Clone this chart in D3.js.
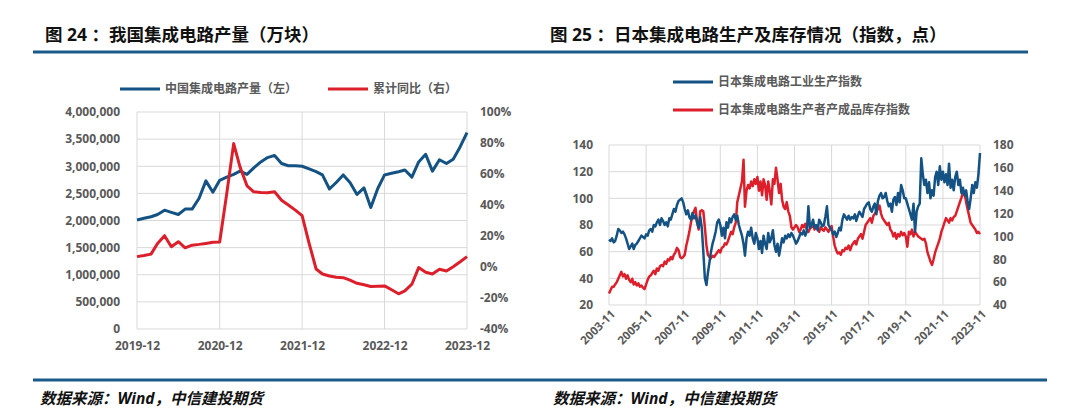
<!DOCTYPE html>
<html><head><meta charset="utf-8">
<script src="https://cdn.jsdelivr.net/npm/d3@7/dist/d3.min.js"></script>
<style>
body{margin:0;background:#fff;}
svg text{font-family:"Open Sans","Noto Sans CJK SC",sans-serif;}
</style></head>
<body><svg id="c" width="1080" height="418"></svg>
<script>
// ---------- Left chart data (2019-12 .. 2023-12, monthly) ----------
const leftStart = "2019-12", leftEnd = "2023-12";
const leftTickLabels = ["2019-12","2020-12","2021-12","2022-12","2023-12"];
const chinaOutput = [2010000,2040000,2070000,2110000,2190000,2150000,2110000,2210000,2210000,2410000,2730000,2520000,
  2740000,2800000,2850000,2910000,2850000,2970000,3080000,3160000,3200000,3050000,3010000,3010000,
  3000000,2950000,2900000,2840000,2580000,2700000,2840000,2700000,2480000,2600000,2240000,2590000,
  2840000,2870000,2900000,2930000,2800000,3080000,3220000,2910000,3120000,3050000,3130000,3360000,3620000];
const chinaYoY = [6.7,7.4,8.3,15.2,20.2,13.1,16.3,12.4,14.1,14.6,15.2,15.9,
  16.1,47,79.6,64.6,52.4,48.5,48.1,47.9,48.5,43.1,40.0,36.7,
  33.1,15.3,-1.3,-4.5,-5.8,-6.6,-6.9,-8.5,-10.5,-11.5,-12.6,-12.4,
  -12.2,-14.7,-17.3,-15.4,-11.1,-0.4,-3.4,-4.5,-1.5,-2.6,0.2,3.4,6.7];
const leftYTicks = [0,500000,1000000,1500000,2000000,2500000,3000000,3500000,4000000];
const rightYTicksPct = [-40,-20,0,20,40,60,80,100];
const leftLegend = ["中国集成电路产量（左）","累计同比（右）"];

// ---------- Right chart data (2003-11 .. 2023-11, monthly) ----------
const rightStart = "2003-11", rightEnd = "2023-11";
const jpProduction = [
 69,68,70,67,68,72,77,76,74,75,73,70,
 66,62,64,66,62,65,66,68,70,72,71,70,
 73,72,76,77,75,80,79,82,84,80,85,83,
 80,82,79,85,84,88,92,90,95,98,99,100,
 97,92,88,91,86,84,89,85,87,82,78,86,
 78,60,40,35,44,52,60,66,70,75,82,84,
 80,72,78,70,82,78,85,82,86,88,84,87,
 80,76,72,66,57,70,75,72,78,70,66,74,
 70,62,68,59,72,66,62,74,67,70,76,65,
 60,66,57,64,70,67,72,70,73,71,74,72,
 69,66,68,71,74,73,76,72,75,94,78,80,
 84,78,80,76,84,82,79,80,86,94,80,78,
 76,73,75,71,74,78,76,84,88,86,84,87,
 84,86,85,88,83,87,90,88,86,92,94,96,
 97,92,90,94,96,88,98,102,104,100,101,104,
 98,94,96,90,99,101,95,104,97,110,106,100,
 100,96,92,88,84,96,75,90,94,96,130,118,
 110,114,104,112,100,106,102,116,120,110,124,114,
 120,112,118,110,126,108,114,106,116,120,110,114,
 104,108,102,106,98,92,100,110,104,112,108,118,
 134];
const jpInventory = [
 50,53,56,56,58,60,63,66,69,65,67,63,
 66,62,60,63,58,60,57,59,56,57,55,54,
 58,62,65,66,68,70,67,72,70,74,75,74,
 78,76,80,79,82,80,84,86,90,88,82,81,
 82,84,92,98,104,112,118,122,125,112,106,122,
 123,122,108,92,84,82,81,83,82,84,86,88,
 86,90,91,94,93,96,100,104,102,108,112,130,
 136,142,148,167,126,140,145,142,148,144,150,146,
 152,140,148,136,150,145,132,148,140,128,150,146,
 160,150,138,146,132,126,124,130,122,118,108,106,
 108,110,108,104,106,110,108,111,106,104,107,108,
 110,106,108,107,104,108,106,105,108,106,104,107,
 109,100,92,88,85,86,84,88,87,90,89,92,
 88,92,94,96,93,98,100,102,98,104,110,112,
 114,116,112,118,120,122,124,127,120,116,114,112,
 110,112,106,104,100,103,98,102,100,104,101,103,
 100,91,104,102,106,100,104,102,100,99,98,97,
 98,94,86,82,78,75,80,86,90,94,98,104,
 108,112,116,114,112,116,114,117,118,122,126,130,
 134,139,138,130,124,118,112,110,108,106,103,104,
 102];
const jpLeftTicks = [20,40,60,80,100,120,140];
const jpRightTicks = [40,60,80,100,120,140,160,180];
const jpXTickLabels = ["2003-11","2005-11","2007-11","2009-11","2011-11","2013-11","2015-11","2017-11","2019-11","2021-11","2023-11"];
const rightLegend = ["日本集成电路工业生产指数","日本集成电路生产者产成品库存指数"];

const titles = ["图 24 ：我国集成电路产量（万块）","图 25 ：日本集成电路生产及库存情况（指数，点）"];
const sourceText = "数据来源：Wind，中信建投期货";

// ---------- styles ----------
const BLUE = "#135283", RED = "#dc1f2b", GRID = "#d9d9d9", TXT = "#595959", RULE = "#1a5a8a";
const svg = d3.select("#c");
const parse = d3.timeParse("%Y-%m");
const fmtM = d3.timeFormat("%Y-%m");

// titles & rules
[[45,titles[0]],[550,titles[1]]].forEach(([x,t])=>svg.append("text").attr("x",x).attr("y",41)
  .attr("xml:space","preserve").style("white-space","pre").text(t)
  .attr("font-family","Noto Sans CJK SC").attr("font-weight","bold").attr("font-size",17.5).attr("fill","#111"));
svg.append("line").attr("x1",33).attr("x2",1028).attr("y1",52).attr("y2",52).attr("stroke",RULE).attr("stroke-width",3);
svg.append("line").attr("x1",33).attr("x2",1047).attr("y1",380).attr("y2",380).attr("stroke",RULE).attr("stroke-width",3);
[40,553].forEach(x=>svg.append("text").attr("x",x).attr("y",404).text(sourceText)
  .attr("font-family","Noto Sans CJK SC").attr("font-weight","bold").attr("font-style","italic")
  .attr("font-size",15.5).attr("fill","#111"));

// ---------- Left chart ----------
(function(){
  const dates = d3.timeMonth.range(parse(leftStart), d3.timeMonth.offset(parse(leftEnd),1));
  const x = d3.scaleTime().domain([parse(leftStart),parse(leftEnd)]).range([137,467]);
  const y = d3.scaleLinear().domain([0,4000000]).range([329,112]);
  const y2 = d3.scaleLinear().domain([-40,100]).range([329,112]);
  const g = svg.append("g");
  const xt = leftTickLabels.map(parse);
  g.selectAll(".hg").data(leftYTicks).join("line").attr("x1",137).attr("x2",467)
    .attr("y1",d=>y(d)).attr("y2",d=>y(d)).attr("stroke",GRID).attr("stroke-width",1);
  g.selectAll(".vg").data(xt).join("line").attr("x1",d=>x(d)).attr("x2",d=>x(d))
    .attr("y1",112).attr("y2",329).attr("stroke",GRID).attr("stroke-width",1);
  const ax = d3.axisLeft(y).tickValues(leftYTicks).tickFormat(d3.format(",")).tickSize(0).tickPadding(0);
  const gl = g.append("g").attr("transform","translate(120,0)").call(ax);
  const ax2 = d3.axisRight(y2).tickValues(rightYTicksPct).tickFormat(d=>d+"%").tickSize(0).tickPadding(0);
  const gr = g.append("g").attr("transform","translate(480,0)").call(ax2);
  const axb = d3.axisBottom(x).tickValues(xt).tickFormat(fmtM).tickSize(0).tickPadding(0);
  const gb = g.append("g").attr("transform","translate(0,341)").call(axb);
  [gl,gr,gb].forEach(a=>{a.select(".domain").remove();
    a.selectAll("text").attr("font-size",12).attr("font-weight","bold").attr("fill",TXT).attr("font-family","Open Sans");});
  const line1 = d3.line().x((d,i)=>x(dates[i])).y(d=>y(d));
  const line2 = d3.line().x((d,i)=>x(dates[i])).y(d=>y2(d));
  g.append("path").datum(chinaOutput).attr("d",line1).attr("fill","none").attr("stroke",BLUE).attr("stroke-width",3).attr("stroke-linejoin","round");
  g.append("path").datum(chinaYoY).attr("d",line2).attr("fill","none").attr("stroke",RED).attr("stroke-width",3).attr("stroke-linejoin","round");
  const lg = [{x:120,c:BLUE,t:leftLegend[0]},{x:328,c:RED,t:leftLegend[1]}];
  lg.forEach(l=>{
    g.append("line").attr("x1",l.x).attr("x2",l.x+40).attr("y1",89).attr("y2",89).attr("stroke",l.c).attr("stroke-width",3);
    g.append("text").attr("x",l.x+45).attr("y",89).attr("dy","0.35em").text(l.t)
      .attr("font-family","Noto Sans CJK SC").attr("font-weight","bold").attr("font-size",12).attr("fill",TXT);
  });
})();

// ---------- Right chart ----------
(function(){
  const dates = d3.timeMonth.range(parse(rightStart), d3.timeMonth.offset(parse(rightEnd),1));
  const x = d3.scaleTime().domain([parse(rightStart),parse(rightEnd)]).range([609,980]);
  const y = d3.scaleLinear().domain([20,140]).range([305,145]);
  const y2 = d3.scaleLinear().domain([40,180]).range([305,145]);
  const g = svg.append("g");
  const xt = jpXTickLabels.map(parse);
  g.selectAll(".hg").data(jpLeftTicks).join("line").attr("x1",609).attr("x2",980)
    .attr("y1",d=>y(d)).attr("y2",d=>y(d)).attr("stroke",GRID).attr("stroke-width",1);
  g.selectAll(".vg").data(xt).join("line").attr("x1",d=>x(d)).attr("x2",d=>x(d))
    .attr("y1",145).attr("y2",305).attr("stroke",GRID).attr("stroke-width",1);
  const gl = g.append("g").attr("transform","translate(593,0)")
    .call(d3.axisLeft(y).tickValues(jpLeftTicks).tickSize(0).tickPadding(0));
  const gr = g.append("g").attr("transform","translate(993,0)")
    .call(d3.axisRight(y2).tickValues(jpRightTicks).tickSize(0).tickPadding(0));
  [gl,gr].forEach(a=>{a.select(".domain").remove();
    a.selectAll("text").attr("font-size",12).attr("font-weight","bold").attr("fill",TXT).attr("font-family","Open Sans");});
  g.selectAll(".xl").data(xt).join("text")
    .attr("transform",d=>`translate(${x(d)+4},${312}) rotate(-45)`)
    .attr("text-anchor","end").attr("dy","0.35em").text(fmtM)
    .attr("font-size",11.5).attr("font-weight","bold").attr("fill",TXT).attr("font-family","Open Sans");
  const l1 = d3.line().x((d,i)=>x(dates[i])).y(d=>y(d));
  const l2 = d3.line().x((d,i)=>x(dates[i])).y(d=>y2(d));
  g.append("path").datum(jpInventory).attr("d",l2).attr("fill","none").attr("stroke",RED).attr("stroke-width",2.5).attr("stroke-linejoin","round");
  g.append("path").datum(jpProduction).attr("d",l1).attr("fill","none").attr("stroke",BLUE).attr("stroke-width",2.5).attr("stroke-linejoin","round");
  const lg = [{y:82,c:BLUE,t:rightLegend[0]},{y:110,c:RED,t:rightLegend[1]}];
  lg.forEach(l=>{
    g.append("line").attr("x1",673).attr("x2",713).attr("y1",l.y).attr("y2",l.y).attr("stroke",l.c).attr("stroke-width",3);
    g.append("text").attr("x",718).attr("y",l.y).attr("dy","0.35em").text(l.t)
      .attr("font-family","Noto Sans CJK SC").attr("font-weight","bold").attr("font-size",12).attr("fill",TXT);
  });
})();
</script></body></html>
